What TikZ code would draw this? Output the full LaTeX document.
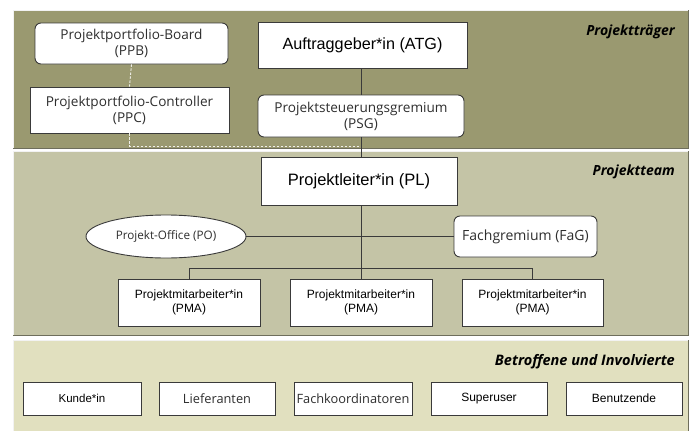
\documentclass[tikz,border=0pt]{standalone}
\usepackage{fontspec}
\setmainfont{Open Sans}
\newfontfamily\arialfont{Liberation Sans}
\usetikzlibrary{shapes.geometric}
\definecolor{bandtop}{HTML}{9A9970}
\definecolor{bandmid}{HTML}{C4C4A6}
\definecolor{bandlow}{HTML}{E1E0BF}
\definecolor{bandedge}{HTML}{6E6E5C}
\definecolor{linegray}{HTML}{3A3A3A}
\definecolor{txtgray}{HTML}{2E2E2E}
\tikzset{
  lightedge/.style={draw=white!90!gray, line width=1pt},
  darkedge/.style={draw=bandedge, line width=1pt},
  box/.style={draw=linegray, fill=white, line width=0.9pt, inner sep=0pt, align=center, text=txtgray},
  rbox/.style={box, rounded corners=6pt},
  conn/.style={draw=linegray, line width=1pt},
  dashlink/.style={draw=white!85!bandtop, line width=0.9pt, dash pattern=on 2.5pt off 1.5pt},
  bandlabel/.style={font=\bfseries\itshape\fontsize{14}{16}\selectfont, anchor=east, text=black, inner sep=0pt},
  fr/.style={font=\fontsize{13.6}{16}\selectfont},
  ar/.style={font=\arialfont\fontsize{12}{14}\selectfont, text=black},
}
\begin{document}
\begin{tikzpicture}[x=1pt, y=-1pt]
\useasboundingbox[fill=white] (0,0) rectangle (694,431);

% background bands: light top/left edge, dark bottom/right edge
\fill[bandlow] (13,340) rectangle (688,431);
\draw[lightedge] (13,431) -- (13,340) -- (688,340);
\draw[darkedge] (688,340) -- (688,431);

\fill[bandmid] (13,151) rectangle (688,335);
\draw[lightedge] (13,335) -- (13,151) -- (688,151);
\draw[darkedge] (13,335) -- (688,335) -- (688,151);

\fill[bandtop] (13,10) rectangle (688,148);
\draw[lightedge] (13,148) -- (13,10) -- (688,10);
\draw[darkedge] (13,148) -- (688,148) -- (688,10);

\node[bandlabel] (lblPT) at (675,32) {Projektträger};
\node[bandlabel] (lblTeam) at (675,172) {Projektteam};
\node[bandlabel, font=\bfseries\itshape\fontsize{14.5}{16}\selectfont] (lblBI) at (675,362) {Betroffene und Involvierte};

% Projekttraeger
\node[rbox, fr, minimum width=193pt, minimum height=41pt] (ppb) at (131.5,43.5) {Projektportfolio-Board\\(PPB)};
\node[box, fr, minimum width=199pt, minimum height=46pt] (ppc) at (129.5,110) {Projektportfolio-Controller\\(PPC)};
\node[box, ar, font=\arialfont\fontsize{16.2}{19}\selectfont, minimum width=209pt, minimum height=46pt] (atg) at (362.5,45) {Auftraggeber*in (ATG)};
\node[rbox, fr, minimum width=206pt, minimum height=42pt] (psg) at (361,116) {Projektsteuerungsgremium\\(PSG)};

% Projektteam
\node[box, ar, font=\arialfont\fontsize{16.5}{19}\selectfont, minimum width=196pt, minimum height=48pt] (pl) at (359,181) {Projektleiter*in (PL)};
\node[ellipse, draw=linegray, fill=white, line width=0.9pt, inner sep=0pt, minimum width=160pt, minimum height=43pt, font=\fontsize{11.7}{13}\selectfont, text=txtgray] (po) at (166,236.5) {Projekt-Office (PO)};
\node[rbox, fr, font=\fontsize{14}{16}\selectfont, minimum width=143pt, minimum height=41pt] (fag) at (525.5,236.5) {Fachgremium (FaG)};
\node[box, ar, minimum width=142pt, minimum height=47pt] (pma1) at (189,302.5) {Projektmitarbeiter*in\\(PMA)};
\node[box, ar, minimum width=142pt, minimum height=47pt] (pma2) at (361,302.5) {Projektmitarbeiter*in\\(PMA)};
\node[box, ar, minimum width=141pt, minimum height=47pt] (pma3) at (532.5,302.5) {Projektmitarbeiter*in\\(PMA)};

% Betroffene und Involvierte
\node[box, ar, font=\arialfont\fontsize{11.5}{14}\selectfont, minimum width=118pt, minimum height=33pt] (kunde) at (82,398.5) {Kunde*in};
\node[box, fr, font=\fontsize{12.8}{15}\selectfont, minimum width=116pt, minimum height=33pt] (lief) at (217,398.5) {Lieferanten};
\node[box, fr, font=\fontsize{12.8}{15}\selectfont, minimum width=118pt, minimum height=33pt] (fachk) at (353,398.5) {Fachkoordinatoren};
\node[box, ar, minimum width=116pt, minimum height=33pt] (super) at (489,398.5) {Superuser};
\node[box, ar, minimum width=116pt, minimum height=33pt] (benu) at (624,398.5) {Benutzende};

% connectors
\coordinate (dcorner) at (ppc.south |- 0,146);
\coordinate (dend) at (361,146);
\draw[dashlink] (ppb.south) -- (ppc.north);
\draw[dashlink] (ppc.south) -- (dcorner) -- (dend);

\draw[conn] (atg.south -| psg.north) -- (psg.north);
\draw[conn] (psg.south) -- (pl.north -| psg.south);
\draw[conn] (pl.south -| pma2.north) -- (pma2.north);
\draw[conn] (po.east) -- (fag.west);
\coordinate (branch) at (0,268);
\draw[conn] (pma1.north) -- (pma1.north |- branch) -- (pma3.north |- branch) -- (pma3.north);
\end{tikzpicture}
\end{document}
